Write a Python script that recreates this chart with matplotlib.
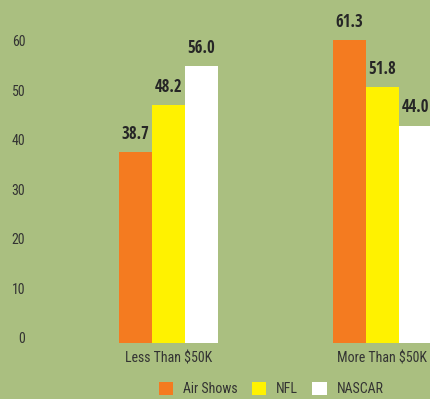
import numpy as np
import matplotlib.pyplot as plt
from matplotlib.patches import Patch

# data
groups = ["Less Than $50K", "More Than $50K"]
series = ["Air Shows", "NFL", "NASCAR"]
air_shows = [38.7, 61.3]
nfl = [48.2, 51.8]
nascar = [56.0, 44.0]
yticks = [0, 10, 20, 30, 40, 50, 60]

bg = "#aabf80"
colors = ["#f47b20", "#fff200", "#ffffff"]
txt = "#333333"
bold_font = ["Open Sans Condensed", "Roboto Condensed", "DejaVu Sans"]
reg_font = ["Roboto Condensed", "PT Sans Narrow", "DejaVu Sans"]

fig = plt.figure(figsize=(4.3, 3.99), dpi=100, facecolor=bg)
ax = fig.add_axes([35 / 430, 56 / 399, 1 - 35 / 430, 343 / 399])
ax.set_facecolor(bg)

x = np.arange(len(groups))
w = 0.154
for i, (vals, c) in enumerate(zip([air_shows, nfl, nascar], colors)):
    pos = x + (i - 1) * w
    ax.bar(pos, vals, width=w, color=c, linewidth=0)
    for p, v in zip(pos, vals):
        ax.annotate(f"{v:.1f}", (p, v), xytext=(0, 9.4), textcoords="offset points",
                    ha="center", va="baseline", fontsize=12, fontweight="bold",
                    color="#262626", family=bold_font)

ax.set_xlim(-0.624, 1.222)
ax.set_ylim(0, 69.4)
ax.set_yticks(yticks)
# labels in the original sit a little above their value, so hang them on the baseline
ax.set_yticklabels([str(t) for t in yticks], family=reg_font, fontsize=10,
                   fontweight="normal", color=txt, va="baseline")
ax.set_xticks(x)
ax.set_xticklabels(groups, family=reg_font, fontsize=10, fontweight="normal", color=txt)
ax.tick_params(length=0, axis="y", pad=7)
ax.tick_params(length=0, axis="x", pad=6)
for s in ax.spines.values():
    s.set_visible(False)

handles = [Patch(facecolor=c, edgecolor="none") for c in colors]
leg = fig.legend(handles, series, loc="center", bbox_to_anchor=(271 / 430, 10 / 399),
                 ncol=3, frameon=False, handlelength=1.05, handleheight=1.05,
                 handletextpad=0.68, columnspacing=1.05,
                 prop={"family": reg_font, "size": 10})
for t in leg.get_texts():
    t.set_color(txt)

fig.savefig("out.png", dpi=100, facecolor=bg)
